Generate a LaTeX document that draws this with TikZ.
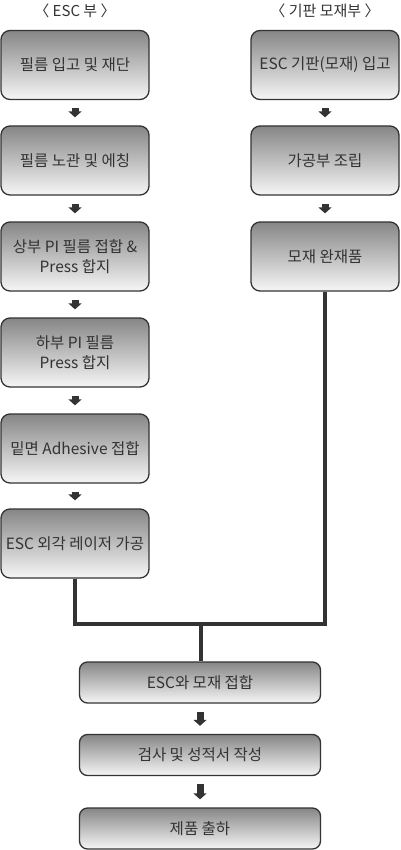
\documentclass[tikz,border=0pt]{standalone}
\usepackage{fontspec}
\setmainfont{Noto Sans CJK KR}
\usetikzlibrary{arrows.meta}
\definecolor{ink}{HTML}{333333}
\definecolor{txt}{HTML}{333333}
\definecolor{topg}{HTML}{868686}
\definecolor{botg}{HTML}{F6F6F6}
\tikzset{
  box/.style={draw=ink, line width=1.3pt, rounded corners=9pt, top color=topg, bottom color=botg,
    minimum width=148pt, minimum height=69pt, align=center, text=txt, inner sep=2pt,
    font=\fontsize{15.5}{20}\selectfont},
  wbox/.style={box, minimum width=241pt, minimum height=41pt, rounded corners=8pt},
  hdr/.style={text=txt, font=\fontsize{15}{18}\selectfont},
  blk/.style={draw=ink, line width=7pt, -{Triangle[width=13pt,length=6pt]}, shorten <=8pt, shorten >=8pt},
  link/.style={draw=ink, line width=4pt}
}
\begin{document}
\begin{tikzpicture}[x=1pt,y=-1pt]
\useasboundingbox (0,0) rectangle (400,850);
\node[hdr] (h1) at (75,11) {〈 ESC 부 〉};
\node[hdr] (h2) at (325,11) {〈 기판 모재부 〉};
\node[box] (l1) at (75,65) {필름 입고 및 재단};
\node[box] (l2) at (75,160.5) {필름 노관 및 에칭};
\node[box] (l3) at (75,256.5) {상부 PI 필름 접합 \&\\Press 합지};
\node[box] (l4) at (75,352.5) {하부 PI 필름\\Press 합지};
\node[box] (l5) at (75,448.5) {밑면 Adhesive 접합};
\node[box] (l6) at (75,543.5) {ESC 외각 레이저 가공};
\node[box] (r1) at (325,65) {ESC 기판(모재) 입고};
\node[box] (r2) at (325,160.5) {가공부 조립};
\node[box] (r3) at (325,256.5) {모재 완재품};
\node[wbox] (b1) at (200,682.5) {ESC와 모재 접합};
\node[wbox] (b2) at (200,755) {검사 및 성적서 작성};
\node[wbox] (b3) at (200,828.5) {제품 출하};
\foreach \a/\b in {l1/l2,l2/l3,l3/l4,l4/l5,l5/l6,r1/r2,r2/r3,b1/b2,b2/b3}
  \draw[blk] (\a.south) -- (\b.north);
\coordinate (j) at (201,624);
\draw[link] (l6.south) |- (j) -| (r3.south);
\draw[link] (j) -- (b1.north -| j);
\end{tikzpicture}
\end{document}
